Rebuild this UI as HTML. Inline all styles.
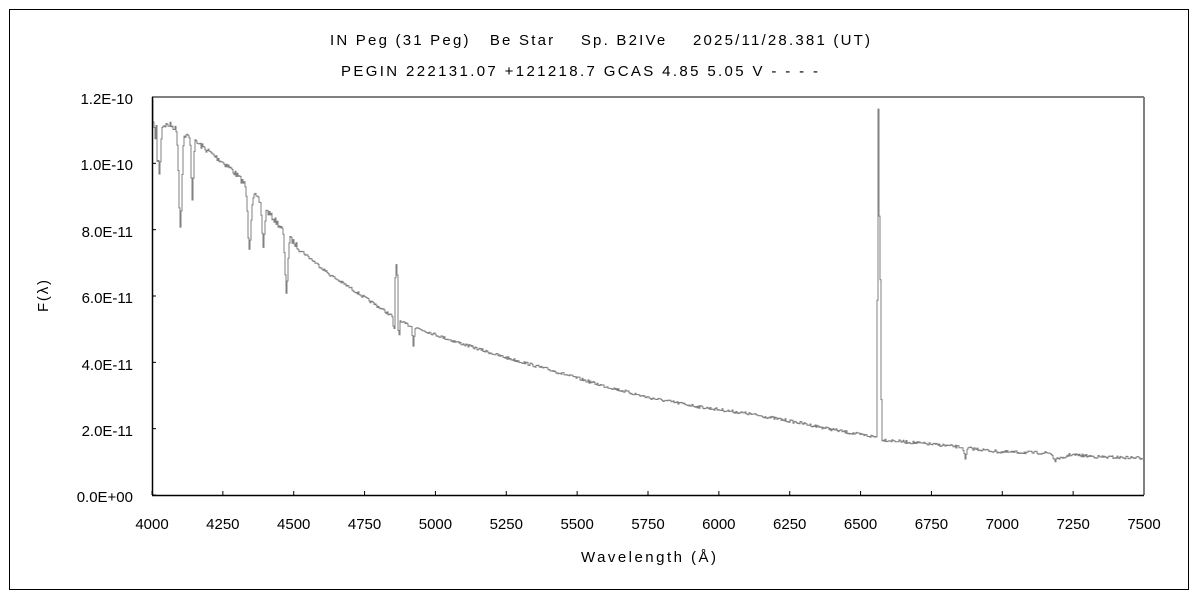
<!DOCTYPE html>
<html><head><meta charset="utf-8"><style>
body{margin:0;background:#fff;width:1200px;height:600px;overflow:hidden}
svg{display:block}
text{font-family:"Liberation Sans","Noto Sans CJK JP",sans-serif;fill:#000}
</style></head><body>
<svg id="s" width="1200" height="600" viewBox="0 0 1200 600">
<rect x="9.5" y="9.5" width="1179" height="580" fill="#fff" stroke="#000" stroke-width="1"/>
<text x="330" y="45" font-size="15" textLength="540" lengthAdjust="spacing">IN Peg (31 Peg)&#160;&#160;&#160;Be Star&#160;&#160;&#160;&#160;Sp. B2IVe&#160;&#160;&#160;&#160;2025/11/28.381 (UT)</text>
<text x="341" y="76" font-size="15" textLength="477" lengthAdjust="spacing">PEGIN 222131.07 +121218.7 GCAS 4.85 5.05 V - - - -</text>
<g font-size="15" text-anchor="end">
<text x="133" y="502">0.0E+00</text>
<text x="133" y="436">2.0E-11</text>
<text x="133" y="370">4.0E-11</text>
<text x="133" y="303">6.0E-11</text>
<text x="133" y="237">8.0E-11</text>
<text x="133" y="170">1.0E-10</text>
<text x="133" y="104">1.2E-10</text>
</g>
<g font-size="15" text-anchor="middle" id="xl"></g>
<text x="581" y="562" font-size="15" textLength="135" lengthAdjust="spacing">Wavelength (Å)</text>
<text x="48" y="296" font-size="15" text-anchor="middle" transform="rotate(-90 48 296)" textLength="32" lengthAdjust="spacing">F(λ)</text>
<g id="ticks" stroke="#000" stroke-width="1"></g>
<path id="spec" fill="none" stroke="#808080" stroke-width="1"/>
<line x1="152" y1="97" x2="1144" y2="97" stroke="#808080" stroke-width="2"/>
<line x1="1144" y1="97" x2="1144" y2="495" stroke="#808080" stroke-width="2"/>
<line x1="152.5" y1="97" x2="152.5" y2="495" stroke="#000" stroke-width="1.5"/>
<line x1="152" y1="495.5" x2="1144" y2="495.5" stroke="#000" stroke-width="1.5"/>
</svg>
<script>
var NS="http://www.w3.org/2000/svg";
var xl=document.getElementById('xl'),tk=document.getElementById('ticks');
for(var i=0;i<=14;i++){var x=152+i*992/14;
var t=document.createElementNS(NS,'text');t.setAttribute('x',x);t.setAttribute('y',529);t.textContent=4000+i*250;xl.appendChild(t);
var l=document.createElementNS(NS,'line');l.setAttribute('x1',x);l.setAttribute('x2',x);l.setAttribute('y1',495);l.setAttribute('y2',491);tk.appendChild(l);}
for(var j=0;j<=6;j++){var y=495-j*398/6;var l=document.createElementNS(NS,'line');l.setAttribute('x1',152);l.setAttribute('x2',156);l.setAttribute('y1',y);l.setAttribute('y2',y);tk.appendChild(l);}
var A=[[152,125],[170,125],[200,145],[230,168],[250,190],[270,215],[300,250],[330,275],[350,288],[380,308],[400,322],[450,340],[500,356],[550,370],[600,385],[650,398],[700,407],[750,414],[800,423],[850,433],[876,437],[884,440],[950,446],[1000,452],[1050,453],[1100,457],[1144,458]];
function cont(x){for(var i=0;i<A.length-1;i++){if(x<=A[i+1][0]){var f=(x-A[i][0])/(A[i+1][0]-A[i][0]);return A[i][1]+f*(A[i+1][1]-A[i][1]);}}return A[A.length-1][1];}
var F=[[159,50,1.2],[180,95,1.5],[192,60,1],[249,58,1.6],[263,40,1.2],[286,58,1.4],[413,18,0.8],[965,12,1],[1055,7,2],[1062,5,3]];
var seed=7;function rnd(){seed=(seed*16807)%2147483647;return seed/2147483647;}
var d="M152,100";
for(var x=153;x<=1143;x++){var y=cont(x);
for(var k=0;k<F.length;k++){var dx=(x-F[k][0])/F[k][2];y+=F[k][1]*Math.exp(-dx*dx/2);}
if(x>=393&&x<=399){y+= ({393:10,394:12,395:-40,396:-55,397:-45,398:10,399:12})[x];}
if(x==877)y=300;if(x==878)y=108;if(x==879)y=215;if(x==880)y=280;if(x==881)y=400;
if(x==155)y=140;if(x==157)y=160;
y+=(rnd()-0.5)*(x<300?6:3);
d+=" H"+x+" V"+y.toFixed(1);}
document.getElementById('spec').setAttribute('d',d);
</script>
</body></html>
